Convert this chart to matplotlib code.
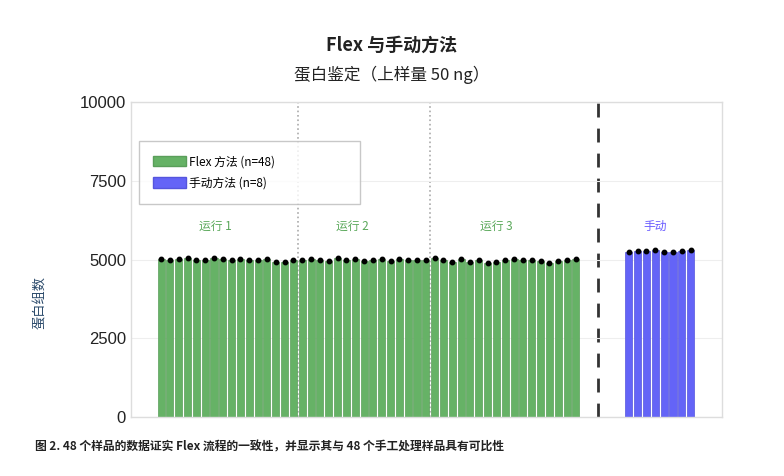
import numpy as np
import matplotlib
matplotlib.use("Agg")
import matplotlib.pyplot as plt
from matplotlib.patches import Patch

plt.rcParams['font.family'] = ['Noto Sans CJK SC', 'DejaVu Sans']

# values
run1 = [5010, 4970, 5010, 5050, 4970, 4975, 5050, 5030, 4970, 5010, 4970, 4970, 5005, 4915, 4915, 4970]
run2 = [4974, 5005, 4974, 4962, 5037, 4994, 5005, 4962, 4984, 5005, 4962, 5005, 4994, 4994, 4984]
run3 = [5057, 4974, 4931, 5016, 4921, 4994, 4889, 4931, 4994, 5026, 4994, 4984, 4962, 4898, 4962, 4974, 5026]
manual = [5248, 5279, 5259, 5291, 5248, 5238, 5279, 5311]
run_labels = ["运行 1", "运行 2", "运行 3"]
run_label_x = [6.1, 21.7, 38.0]
manual_label = "手动"
yticks = [0, 2500, 5000, 7500, 10000]

green = "#66b266"
blue = "#6464f7"

flex = np.array(run1 + run2 + run3)
x_flex = np.arange(len(flex))
x_manual = np.arange(len(manual)) + len(flex) + 5

fig = plt.figure(figsize=(7.84, 4.76), dpi=100)
ax = fig.add_axes([0.1677, 0.1239, 0.7526, 0.6618])

ax.bar(x_flex, flex, width=0.8, color=green, edgecolor="#5a9e5a", linewidth=0.5, zorder=2)
ax.bar(x_manual, manual, width=0.8, color=blue, edgecolor="#5555dd", linewidth=0.5, zorder=2)
ax.plot(x_flex, flex, "o", color="black", markersize=3.2, zorder=3)
ax.plot(x_manual, manual, "o", color="black", markersize=3.2, zorder=3)

# run separators
b1 = len(run1) - 0.5
b2 = len(run1) + len(run2) - 0.5
for b in [b1, b2]:
    ax.axvline(b, color="#aaaaaa", linestyle=":", linewidth=1.2, zorder=1)
ax.axvline(len(flex) + 1.5, color="#333333", linestyle=(0, (5, 4)), linewidth=2, zorder=1)

for lab, xl in zip(run_labels, run_label_x):
    ax.text(xl, 6050, lab, color="#5aa85a", fontsize=8.5, ha="center", va="center")
ax.text(x_manual.mean() - 0.5, 6050, manual_label, color="#6a5cff", fontsize=8.5, ha="center", va="center")

ax.set_xlim(-3.35, 63.5)
ax.set_ylim(0, 10000)
ax.set_yticks(yticks)
ax.set_yticklabels([str(t) for t in yticks], fontsize=12, color="#222222", family="Liberation Sans")
ax.set_xticks([])
ax.tick_params(axis="y", length=0, pad=4)
ax.grid(axis="y", color="#eeeeee", linewidth=0.8, zorder=0)
for s in ax.spines.values():
    s.set_color("#dddddd")
    s.set_linewidth(1)
ax.set_ylabel("蛋白组数", fontsize=9.5, color="#2b4a6b")
ax.yaxis.set_label_coords(-0.143, 0.365)

handles = [Patch(facecolor=green, edgecolor="#5a9e5a", label="Flex 方法 (n=48)"),
           Patch(facecolor=blue, edgecolor="#5555dd", label="手动方法 (n=8)")]
leg = ax.legend(handles=handles, loc="upper left", bbox_to_anchor=(0.012, 0.876, 0.376, 0.0),
                mode="expand", borderaxespad=0, fontsize=8.5, frameon=True, fancybox=False,
                borderpad=1.2, labelspacing=0.7, handlelength=2.8, handleheight=1.0,
                handletextpad=0.3)
leg.get_frame().set_edgecolor("#bbbbbb")
leg.get_frame().set_linewidth(1)

fig.text(0.5, 0.905, "Flex 与手动方法", ha="center", va="center", fontsize=13, fontweight="bold", color="#222222")
fig.text(0.5, 0.843, "蛋白鉴定（上样量 50 ng）", ha="center", va="center", fontsize=12, color="#222222")
fig.text(0.045, 0.061, "图 2. 48 个样品的数据证实 Flex 流程的一致性，并显示其与 48 个手工处理样品具有可比性",
         ha="left", va="center", fontsize=8.5, fontweight="bold", color="#222222")

fig.savefig("out.png", dpi=100)
